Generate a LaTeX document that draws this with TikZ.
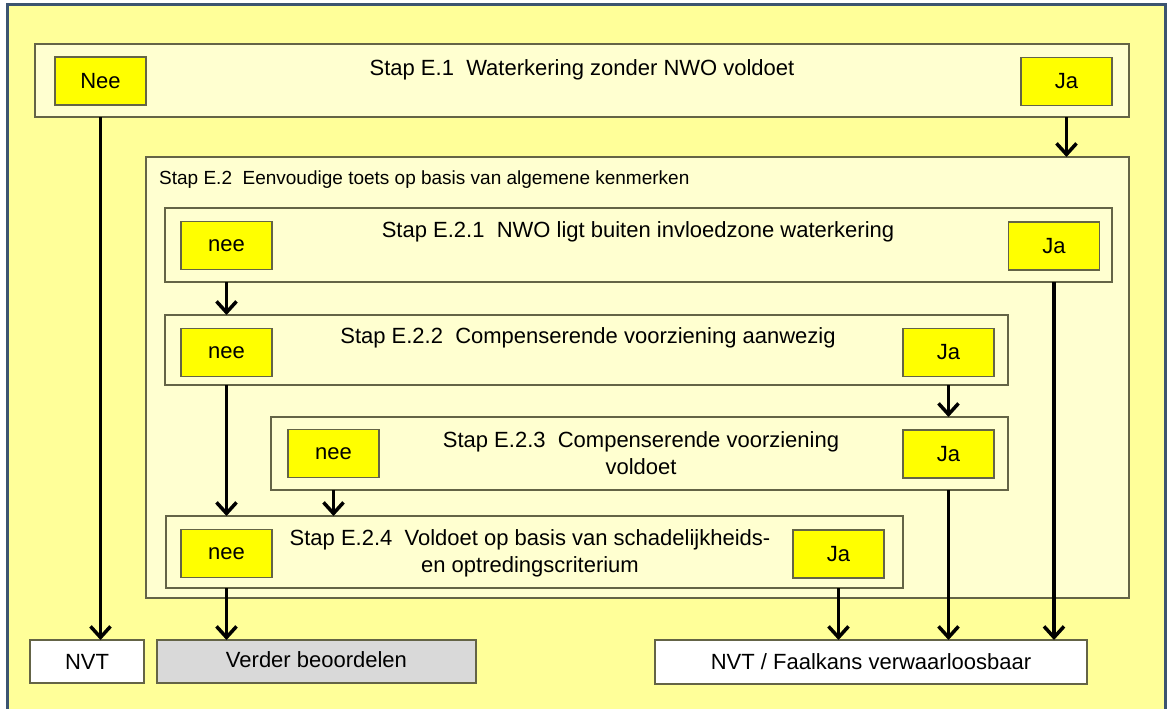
\documentclass[tikz,border=0pt]{standalone}
\usepackage{fontspec}
\setmainfont{Liberation Sans}
\usetikzlibrary{arrows.meta}
\definecolor{bgyellow}{RGB}{255,255,153}
\definecolor{cream}{RGB}{255,255,208}
\definecolor{yes}{RGB}{255,255,0}
\definecolor{edge}{RGB}{100,100,70}
\definecolor{frame}{RGB}{60,84,112}
\definecolor{greybox}{RGB}{217,217,217}
\tikzset{
  stepframe/.style={draw=edge, line width=1.5pt, fill=cream, rectangle, inner sep=0pt, outer sep=0pt},
  answer/.style={draw=edge, line width=1.5pt, fill=yes, rectangle, inner sep=0pt, outer sep=0pt,
    minimum width=91pt, minimum height=48pt, font=\fontsize{22}{26}\selectfont},
  result/.style={draw=edge, line width=1.5pt, fill=white, rectangle, inner sep=0pt, outer sep=0pt,
    minimum height=43pt, font=\fontsize{22}{26}\selectfont},
  title/.style={inner sep=0pt, align=center, font=\fontsize{22}{27}\selectfont},
  arr/.style={line width=3.5pt, -{Straight Barb[length=11pt,width=20pt,line width=3.5pt]}}
}
\begin{document}
\begin{tikzpicture}[x=1pt,y=-1pt]
\clip (0,0) rectangle (1168,709);
\fill[white] (0,0) rectangle (1168,709);
\draw[line width=3pt, draw=frame, fill=bgyellow] (7,5) rectangle (1165,720);

% Step E.1
\node[stepframe, minimum width=1094pt, minimum height=73pt] (e1) at (582,80.5) {};
\node[title] (t1) at (582,70) {Stap E.1\ \ Waterkering zonder NWO voldoet};
\node[answer] (nee1) at (100.5,81) {Nee};
\node[answer] (ja1) at (1066.5,81.5) {Ja};

% Step E.2
\node[stepframe, minimum width=983pt, minimum height=441pt] (e2) at (637.5,377.5) {};
\node[inner sep=0pt, anchor=west, font=\fontsize{19}{23}\selectfont] (t2) at (159,180) {Stap E.2\ \ Eenvoudige toets op basis van algemene kenmerken};

% Step E.2.1
\node[stepframe, minimum width=947pt, minimum height=74pt] (e21) at (638.5,245) {};
\node[title] (t21) at (638,232) {Stap E.2.1\ \ NWO ligt buiten invloedzone waterkering};
\node[answer] (nee21) at (226.5,245.5) {nee};
\node[answer] (ja21) at (1054,246) {Ja};

% Step E.2.2
\node[stepframe, minimum width=843pt, minimum height=70pt] (e22) at (586.5,350) {};
\node[title] (t22) at (588,338) {Stap E.2.2\ \ Compenserende voorziening aanwezig};
\node[answer] (nee22) at (226.5,352.5) {nee};
\node[answer] (ja22) at (948.5,352.5) {Ja};

% Step E.2.3
\node[stepframe, minimum width=737pt, minimum height=73pt] (e23) at (639.5,453.5) {};
\node[title] (t23) at (641,453) {Stap E.2.3\ \ Compenserende voorziening\\voldoet};
\node[answer] (nee23) at (333.5,453.5) {nee};
\node[answer] (ja23) at (948.5,454) {Ja};

% Step E.2.4
\node[stepframe, minimum width=737pt, minimum height=72pt] (e24) at (534.5,552) {};
\node[title] (t24) at (530,553) {Stap E.2.4\ \ Voldoet op basis van schadelijkheids-\\en optredingscriterium};
\node[answer] (nee24) at (226.5,553.5) {nee};
\node[answer] (ja24) at (838.5,554) {Ja};

% Results
\node[result, minimum width=114pt] (nvt) at (87,661.5) {NVT};
\node[result, fill=greybox, minimum width=319pt] (verder) at (316.5,661.5) {\raisebox{3pt}{Verder beoordelen}};
\node[result, minimum width=432pt, minimum height=44pt] (faal) at (871,662) {NVT / Faalkans verwaarloosbaar};

% Connectors
\draw[arr] (nee1.south |- e1.south) -- (nee1.south |- nvt.north);
\draw[arr] (ja1.south |- e1.south) -- (ja1.south |- e2.north);
\draw[arr] (nee21.south |- e21.south) -- (nee21.south |- e22.north);
\draw[arr] (ja21.south |- e21.south) -- (ja21.south |- faal.north);
\draw[arr] (nee22.south |- e22.south) -- (nee22.south |- e24.north);
\draw[arr] (ja22.south |- e22.south) -- (ja22.south |- e23.north);
\draw[arr] (nee23.south |- e23.south) -- (nee23.south |- e24.north);
\draw[arr] (ja23.south |- e23.south) -- (ja23.south |- faal.north);
\draw[arr] (nee24.south |- e24.south) -- (nee24.south |- verder.north);
\draw[arr] (ja24.south |- e24.south) -- (ja24.south |- faal.north);
\end{tikzpicture}
\end{document}
